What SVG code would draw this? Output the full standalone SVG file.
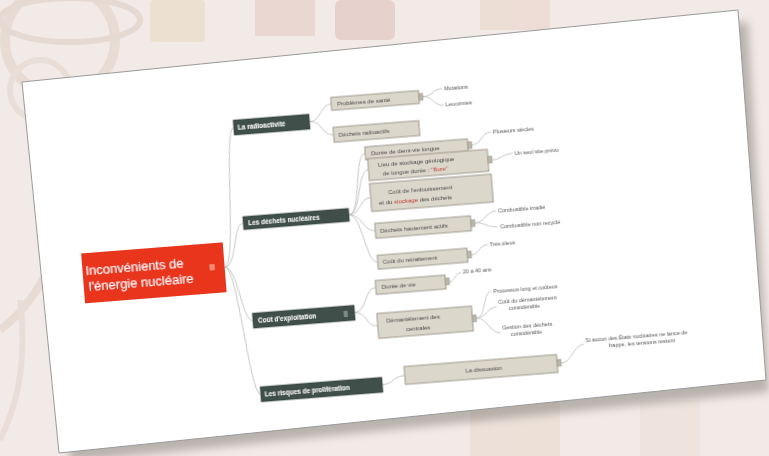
<svg xmlns="http://www.w3.org/2000/svg" width="769" height="456" viewBox="0 0 769 456">
<defs>
<filter id="blur" x="-10%" y="-10%" width="120%" height="120%"><feGaussianBlur stdDeviation="4"/></filter>
<filter id="soft" x="-5%" y="-5%" width="110%" height="110%"><feGaussianBlur stdDeviation="0.4"/></filter>
<style>
.bg{fill:#f2eae6}
.deco{fill:#e9ddd6}
.root{fill:#e8361d}
.main{fill:#3f5049;stroke:#2e3b36;stroke-width:0.6}
.sub{fill:#dcd7cb;stroke:#8f887c;stroke-width:0.8}
.tab{fill:#bdb6aa;stroke:#8f887c;stroke-width:0.4}
.con{fill:none;stroke:#b9b9b9;stroke-width:0.8}
.tr{font-family:"Liberation Sans",Arial,sans-serif;font-size:13px;fill:#ffffff}
.tm{font-family:"Liberation Sans",Arial,sans-serif;font-size:6.5px;fill:#ffffff;font-weight:bold}
.ts{font-family:"Liberation Sans",Arial,sans-serif;font-size:6px;fill:#444}
.tl{font-family:"Liberation Sans",Arial,sans-serif;font-size:5.5px;fill:#555}
.red{fill:#c0392b}
</style>
</defs>
<rect class="bg" x="0" y="0" width="769" height="456"/>
<g id="background" opacity="0.9">
<circle cx="60" cy="40" r="55" fill="none" stroke="#e6dad3" stroke-width="10"/>
<circle cx="40" cy="90" r="30" fill="none" stroke="#e8ddd6" stroke-width="6"/>
<ellipse cx="70" cy="20" rx="70" ry="22" fill="none" stroke="#e4d8d0" stroke-width="6"/>
<rect x="150" y="0" width="55" height="42" rx="4" fill="#ece0cf"/>
<rect x="255" y="0" width="60" height="36" fill="#ead6cf"/>
<rect x="335" y="0" width="60" height="40" rx="6" fill="#e6cfcb"/>
<rect x="480" y="0" width="70" height="30" fill="#ecdcd4"/>
<path d="M0 330 Q40 300 60 240" fill="none" stroke="#e6dad3" stroke-width="8"/>
<path d="M0 440 Q30 380 20 300" fill="none" stroke="#e8ddd6" stroke-width="6"/>
<rect x="470" y="395" width="90" height="61" fill="#ecdfd6"/>
<rect x="640" y="400" width="60" height="56" fill="#eee4dd"/>
</g>
<g id="paper">
<polygon points="32,92 748,22 769,392 70,462" fill="#8a8580" opacity="0.55" filter="url(#blur)"/>
<polygon points="22,82 738,10 766,380 59,453" fill="#ffffff" stroke="#9a9a9a" stroke-width="1"/>
</g>
<g transform="rotate(-4.5 380 240)" filter="url(#soft)">
<g id="connectors">
<path class="con" d="M223,255 C236,255 232,116.5 243,116.5"/>
<path class="con" d="M223,255 C236,255 234,212.5 245,212.5"/>
<path class="con" d="M223,255 C236,255 236,310.5 247,310.5"/>
<path class="con" d="M223,255 C236,255 238,384.5 249,384.5"/>
<path class="con" d="M319,116.5 C332,116.5 330,100.5 342,100.5"/>
<path class="con" d="M319,116.5 C332,116.5 330,131.5 342,131.5"/>
<path class="con" d="M434,100.5 C444,100.5 444,94 454,94"/>
<path class="con" d="M434,100.5 C444,100.5 444,110.5 454,110.5"/>
<path class="con" d="M351,212.5 C364,212.5 360,152.5 372,152.5"/>
<path class="con" d="M351,212.5 C364,212.5 362,169 374,169"/>
<path class="con" d="M351,212.5 C364,212.5 362,197 374,197"/>
<path class="con" d="M351,212.5 C364,212.5 364,230.5 376,230.5"/>
<path class="con" d="M351,212.5 C364,212.5 364,262 376,262"/>
<path class="con" d="M479,152.5 C489,152.5 489,141 499,141"/>
<path class="con" d="M498,169 C508,169 508,164 519,164"/>
<path class="con" d="M476,230.5 C486,230.5 488,220 498,220"/>
<path class="con" d="M476,230.5 C486,230.5 488,236 498,236"/>
<path class="con" d="M470,262 C478,262 478,253 487,253"/>
<path class="con" d="M349,310.5 C362,310.5 360,287 372,287"/>
<path class="con" d="M349,310.5 C362,310.5 359,325.5 371,325.5"/>
<path class="con" d="M446,287 C452,287 452,279 458,279"/>
<path class="con" d="M470,325.5 C480,325.5 478,300 487,300"/>
<path class="con" d="M470,325.5 C480,325.5 481,316 491,316"/>
<path class="con" d="M470,325.5 C480,325.5 483,342 493,342"/>
<path class="con" d="M371,384.5 C382,384.5 382,377 394,377"/>
<path class="con" d="M551,377 C562,377 564,360 575,360"/>
</g>
<g id="root">
<rect class="root" x="81" y="230" width="142" height="50"/>
<text class="tr" x="84" y="252">Inconvénients de</text>
<text class="tr" x="86" y="268">l'énergie nucléaire</text>
<rect x="208" y="251" width="5" height="6" fill="#f08a70"/>
</g>
<g id="n-radioactivite">
<rect class="main" x="243" y="109" width="76" height="15"/>
<text class="tm" x="247" y="119">La radioactivité</text>
</g>
<g id="n-sante">
<rect class="sub" x="342" y="94" width="88" height="13"/>
<rect class="tab" x="430" y="97" width="4" height="7"/>
<text class="ts" x="348" y="103">Problèmes de santé</text>
</g>
<g id="n-mutations"><text class="tl" x="456" y="96">Mutations</text></g>
<g id="n-leucemies"><text class="tl" x="456" y="112.5">Leucémies</text></g>
<g id="n-dechets-radio">
<rect class="sub" x="342" y="124" width="86" height="15"/>
<text class="ts" x="347" y="134">Déchets radioactifs</text>
</g>
<g id="n-dechets">
<rect class="main" x="245" y="206" width="106" height="13"/>
<text class="tm" x="250" y="215">Les déchets nucléaires</text>
</g>
<g id="n-demivie">
<rect class="sub" x="372" y="146" width="103" height="13"/>
<rect class="tab" x="475" y="149" width="4" height="7"/>
<text class="ts" x="378" y="155">Durée de demi-vie longue</text>
</g>
<g id="n-siecles"><text class="tl" x="501" y="143">Plusieurs siècles</text></g>
<g id="n-stockage">
<rect class="sub" x="374" y="158" width="120" height="22"/>
<rect class="tab" x="494" y="165" width="4" height="7"/>
<text class="ts" x="384" y="167">Lieu de stockage géologique</text>
<text class="ts" x="388" y="176">de longue durée : <tspan class="red">"Bure"</tspan></text>
</g>
<g id="n-site"><text class="tl" x="521" y="166">Un seul site prévu</text></g>
<g id="n-cout-enf">
<rect class="sub" x="374" y="183" width="122" height="28"/>
<text class="ts" x="392" y="195">Coût de l'enfouissement</text>
<text class="ts" x="382" y="205">et du <tspan class="red">stockage</tspan> des déchets</text>
</g>
<g id="n-hautement">
<rect class="sub" x="376" y="223" width="96" height="15"/>
<rect class="tab" x="472" y="227" width="4" height="7"/>
<text class="ts" x="381" y="233">Déchets hautement actifs</text>
</g>
<g id="n-irradie"><text class="tl" x="500" y="222">Combustible irradié</text></g>
<g id="n-nonrecycle"><text class="tl" x="501" y="238">Combustible non recyclé</text></g>
<g id="n-retraitement">
<rect class="sub" x="376" y="255" width="90" height="14"/>
<rect class="tab" x="466" y="258" width="4" height="7"/>
<text class="ts" x="381" y="264.5">Coût du retraitement</text>
</g>
<g id="n-eleve"><text class="tl" x="489" y="255">Très élevé</text></g>
<g id="n-exploitation">
<rect class="main" x="247" y="303" width="102" height="15"/>
<text class="tm" x="252" y="313">Coût d'exploitation</text>
<rect x="338" y="308" width="4" height="6" fill="#7a8a84"/>
</g>
<g id="n-dureevie">
<rect class="sub" x="372" y="280" width="70" height="14"/>
<rect class="tab" x="442" y="283" width="4" height="7"/>
<text class="ts" x="378" y="289.5">Durée de vie</text>
</g>
<g id="n-ans"><text class="tl" x="460" y="280">20 à 40 ans</text></g>
<g id="n-demantelement">
<rect class="sub" x="371" y="313" width="95" height="25"/>
<rect class="tab" x="466" y="322" width="4" height="7"/>
<text class="ts" x="380" y="323">Démantèlement des</text>
<text class="ts" x="399" y="333">centrales</text>
</g>
<g id="n-processus"><text class="tl" x="489" y="302">Processus long et coûteux</text></g>
<g id="n-coutdem">
<text class="tl" x="493" y="313">Coût du démantèlement</text>
<text class="tl" x="503" y="320">considérable</text>
</g>
<g id="n-gestion">
<text class="tl" x="495" y="339">Gestion des déchets</text>
<text class="tl" x="503" y="346">considérable</text>
</g>
<g id="n-proliferation">
<rect class="main" x="249" y="377" width="122" height="15"/>
<text class="tm" x="253" y="387">Les risques de prolifération</text>
</g>
<g id="n-dissuasion">
<rect class="sub" x="394" y="368" width="153" height="18"/>
<rect class="tab" x="547" y="373" width="4" height="7"/>
<text class="ts" x="455" y="379">La dissuasion</text>
</g>
<g id="n-frappe">
<text class="tl" x="577" y="358">Si aucun des États nucléaires ne lance de</text>
<text class="tl" x="600" y="365">frappe, les tensions restent</text>
</g>
</g>
</svg>
